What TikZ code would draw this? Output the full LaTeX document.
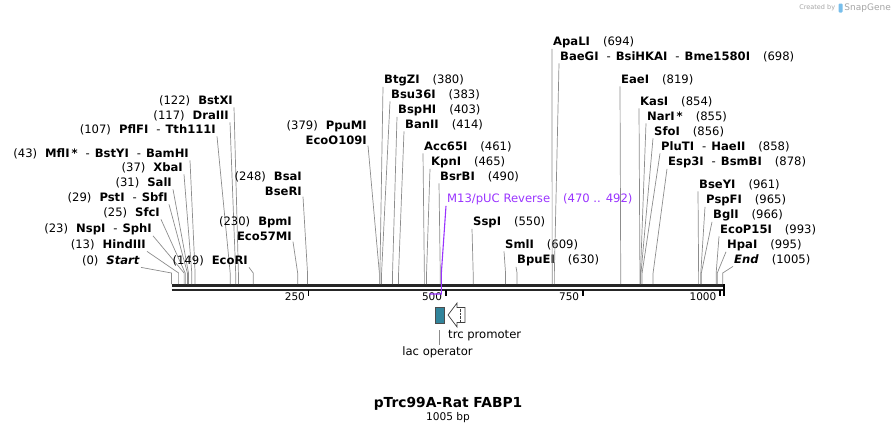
\documentclass[tikz,border=0pt]{standalone}
\usepackage{fontspec}
\setmainfont{DejaVu Sans}
\usetikzlibrary{positioning}
\definecolor{sitegray}{RGB}{140,140,140}
\definecolor{primer}{RGB}{153,51,255}
\definecolor{lacteal}{RGB}{49,132,155}
\definecolor{credit}{RGB}{165,165,165}
\definecolor{logoblue}{RGB}{120,190,235}
\newcommand{\dsh}{\hspace{8pt}-\hspace{5pt}}

\begin{document}
\begin{tikzpicture}[x=1pt,y=-1pt,
  lbl/.style={inner sep=1pt, align=right, font=\fontsize{11.6}{15}\selectfont},
  lblr/.style={inner sep=1pt, align=left, font=\fontsize{11.6}{15}\selectfont},
  site/.style={sitegray, line width=0.7pt},
  backbone/.style={black!85, line width=2.8pt},
  tick/.style={black, line width=1.6pt},
  ticklbl/.style={inner sep=0pt, anchor=east, font=\fontsize{10.5}{12}\selectfont}]
\useasboundingbox (0,0) rectangle (896,434);

% Backbone
\coordinate (bbL) at (171.5,285.3);
\coordinate (bbR) at (724,285.3);
\coordinate (knee) at (0,273);
\draw[backbone] (bbL) -- (bbR);
\draw[black!85, line width=1.8pt] ([yshift=-4.5pt]bbL) -- ([yshift=-4.5pt]bbR);
\draw[black, line width=1.2pt] (724,284) -- (724,296);

% Ticks
\foreach \t in {250,500,750,1000}{
  \draw[tick] ({171.5+0.5485*\t},290) -- ++(0,6);
  \node[ticklbl] (t\t) at ({168+0.5485*\t},297) {\t};
}

% Sites, labels on the left
\foreach \n/\p/\x/\y/\t in {
  start/0/140/261/{(0)\hspace{8pt}\textbf{\textit{Start}}},
  hind/13/146/245/{(13)\hspace{8pt}\textbf{HindIII}},
  nsp/23/152/229/{(23)\hspace{8pt}\textbf{NspI}\dsh\textbf{SphI}},
  sfc/25/160/213/{(25)\hspace{8pt}\textbf{SfcI}},
  pst/29/168/198/{(29)\hspace{8pt}\textbf{PstI}\dsh\textbf{SbfI}},
  sal/31/172/183/{(31)\hspace{8pt}\textbf{SalI}},
  xba/37/183/168/{(37)\hspace{8pt}\textbf{XbaI}},
  mfl/43/189/154/{(43)\hspace{8pt}\textbf{MflI\,*}\dsh\textbf{BstYI}\dsh\textbf{BamHI}},
  pfl/107/216/130/{(107)\hspace{8pt}\textbf{PflFI}\dsh\textbf{Tth111I}},
  dra/117/229/116/{(117)\hspace{8pt}\textbf{DraIII}},
  bstx/122/233/101/{(122)\hspace{8pt}\textbf{BstXI}},
  ecor/149/248/261/{(149)\hspace{8pt}\textbf{EcoRI}},
  bpm/230/292/228.5/{(230)\hspace{8pt}\textbf{BpmI}\\\textbf{Eco57MI}},
  bsa/248/302/183.5/{(248)\hspace{8pt}\textbf{BsaI}\\\textbf{BseRI}},
  ppu/379/367/132.5/{(379)\hspace{8pt}\textbf{PpuMI}\\\textbf{EcoO109I}}}{
  \node[lbl, anchor=east] (\n) at ({\x+1},\y) {\t};
  \coordinate (c\n) at ({171.5+0.5485*\p},284);
  \draw[site] (\n.south east) -- (c\n |- knee) -- (c\n);
}

% Sites, labels on the right
\foreach \n/\p/\x/\y/\t in {
  btgz/380/384/80/{\textbf{BtgZI}\hspace{13pt}(380)},
  bsu/383/391/95/{\textbf{Bsu36I}\hspace{13pt}(383)},
  bsph/403/398/110/{\textbf{BspHI}\hspace{13pt}(403)},
  ban/414/405/125/{\textbf{BanII}\hspace{13pt}(414)},
  acc/461/424/147/{\textbf{Acc65I}\hspace{13pt}(461)},
  kpn/465/431/162/{\textbf{KpnI}\hspace{13pt}(465)},
  bsrb/490/440/177/{\textbf{BsrBI}\hspace{13pt}(490)},
  ssp/550/473/222/{\textbf{SspI}\hspace{13pt}(550)},
  sml/609/505/245/{\textbf{SmlI}\hspace{13pt}(609)},
  bpue/630/517/260/{\textbf{BpuEI}\hspace{13pt}(630)},
  apal/694/553/42/{\textbf{ApaLI}\hspace{13pt}(694)},
  baeg/698/560/57/{\textbf{BaeGI}\dsh\textbf{BsiHKAI}\dsh\textbf{Bme1580I}\hspace{13pt}(698)},
  eae/819/621/80/{\textbf{EaeI}\hspace{13pt}(819)},
  kas/854/640/102/{\textbf{KasI}\hspace{13pt}(854)},
  nar/855/647/117/{\textbf{NarI\,*}\hspace{13pt}(855)},
  sfo/856/654/132/{\textbf{SfoI}\hspace{13pt}(856)},
  plu/858/661/147/{\textbf{PluTI}\dsh\textbf{HaeII}\hspace{13pt}(858)},
  esp/878/668/162/{\textbf{Esp3I}\dsh\textbf{BsmBI}\hspace{13pt}(878)},
  bsey/961/699/185/{\textbf{BseYI}\hspace{13pt}(961)},
  pspf/965/706/200/{\textbf{PspFI}\hspace{13pt}(965)},
  bgl/966/713/215/{\textbf{BglI}\hspace{13pt}(966)},
  ecop/993/720/230/{\textbf{EcoP15I}\hspace{13pt}(993)},
  hpa/995/727/245/{\textbf{HpaI}\hspace{13pt}(995)},
  send/1005/734/260/{\textbf{\textit{End}}\hspace{13pt}(1005)}}{
  \node[lblr, anchor=west] (\n) at ({\x-1},\y) {\t};
  \coordinate (c\n) at ({171.5+0.5485*\p},284);
  \draw[site] (\n.south west) -- (c\n |- knee) -- (c\n);
}

% Primer
\node[lblr, anchor=west, text=primer] (m13) at (446,199) {M13/pUC Reverse\hspace{13pt}(470 .. 492)};
\coordinate (p492) at ({171.5+0.5485*492},294);
\coordinate (p470) at ({171.5+0.5485*470},294);
\draw[primer, line width=1.1pt] (m13.south west) -- (p492 |- knee) -- (p492) -- (p470);

% Features
\node[draw=black!70, fill=lacteal, minimum width=9.3pt, minimum height=16pt, inner sep=0pt] (lac) at (439.6,315) {};
\node[lblr, inner sep=0pt] (laclbl) at (437.5,352) {lac operator};
\draw[site] ([yshift=-7pt]lac.south) -- (lac.south |- 0,345);
\draw[black!75, fill=white, line width=0.7pt] (448,315) -- (457,303) -- (457,307.5) -- (465,307.5)
  -- (465,322.5) -- (457,322.5) -- (457,327) -- cycle;
\draw[black!75, densely dotted] (460.5,308.5) -- (460.5,321.5);
\node[lblr, anchor=west, inner sep=0pt] (trc) at (448,336) {trc promoter};

% Title
\node[font=\bfseries\fontsize{13.8}{16}\selectfont] (title) at (448,404) {pTrc99A-Rat FABP1};
\node[font=\fontsize{10.6}{12}\selectfont] (size) at (448,418) {1005 bp};

% Credit
\node[anchor=east, inner sep=0pt, text=credit, font=\fontsize{9}{10}\selectfont] (snap) at (891,8) {SnapGene};
\node[left=1.5pt of snap, inner sep=0pt, fill=logoblue, rounded corners=1pt, minimum width=4pt, minimum height=9pt] (logo) {};
\node[left=3pt of logo, inner sep=0pt, text=credit, font=\fontsize{6.5}{7}\selectfont] (created) {Created by};
\end{tikzpicture}
\end{document}
